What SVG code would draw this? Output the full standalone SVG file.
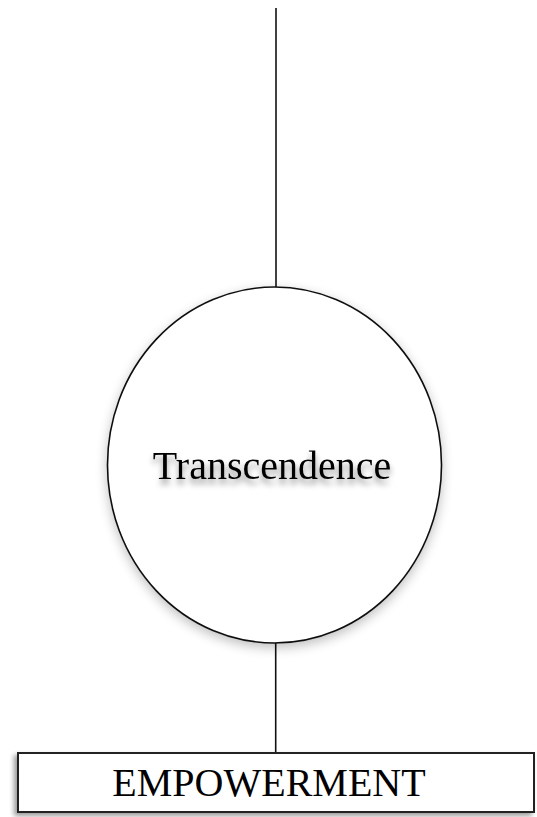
<svg xmlns="http://www.w3.org/2000/svg" width="537" height="817" viewBox="0 0 537 817">
  <style>
    .ln { stroke: #111; stroke-width: 1.6; fill: none; }
    .lbl { font-family: "Liberation Serif", "Times New Roman", serif; font-size: 40px; fill: #000; text-anchor: middle; }
  </style>
  <defs>
    <filter id="softShadow" x="-20%" y="-20%" width="140%" height="140%">
      <feGaussianBlur in="SourceAlpha" stdDeviation="6"/>
      <feOffset dx="0" dy="4" result="b"/>
      <feComponentTransfer><feFuncA type="linear" slope="0.25"/></feComponentTransfer>
      <feMerge><feMergeNode/><feMergeNode in="SourceGraphic"/></feMerge>
    </filter>
    <filter id="textShadow" x="-10%" y="-30%" width="120%" height="180%">
      <feGaussianBlur in="SourceAlpha" stdDeviation="3"/>
      <feOffset dx="0" dy="5"/>
      <feComponentTransfer><feFuncA type="linear" slope="0.45"/></feComponentTransfer>
      <feMerge><feMergeNode/><feMergeNode in="SourceGraphic"/></feMerge>
    </filter>
    <filter id="boxShadow" x="-5%" y="-20%" width="110%" height="150%">
      <feGaussianBlur in="SourceAlpha" stdDeviation="2.5"/>
      <feOffset dx="-3" dy="3"/>
      <feComponentTransfer><feFuncA type="linear" slope="0.4"/></feComponentTransfer>
      <feMerge><feMergeNode/><feMergeNode in="SourceGraphic"/></feMerge>
    </filter>
  </defs>
  <rect width="537" height="817" fill="#fff"/>
  <g id="connectors">
    <line class="ln" x1="276" y1="8" x2="276" y2="287"/>
    <line class="ln" x1="275.7" y1="643" x2="275.7" y2="753"/>
  </g>
  <g id="transcendence">
    <ellipse cx="274.5" cy="465" rx="167" ry="178" fill="#fff" stroke="#111" stroke-width="1.6" filter="url(#softShadow)"/>
    <text class="lbl" x="272" y="479" filter="url(#textShadow)">Transcendence</text>
  </g>
  <g id="empowerment">
    <rect x="18" y="753" width="516" height="59" fill="#fff" stroke="#222" stroke-width="2" filter="url(#boxShadow)"/>
    <text class="lbl" x="269" y="796">EMPOWERMENT</text>
  </g>
</svg>
